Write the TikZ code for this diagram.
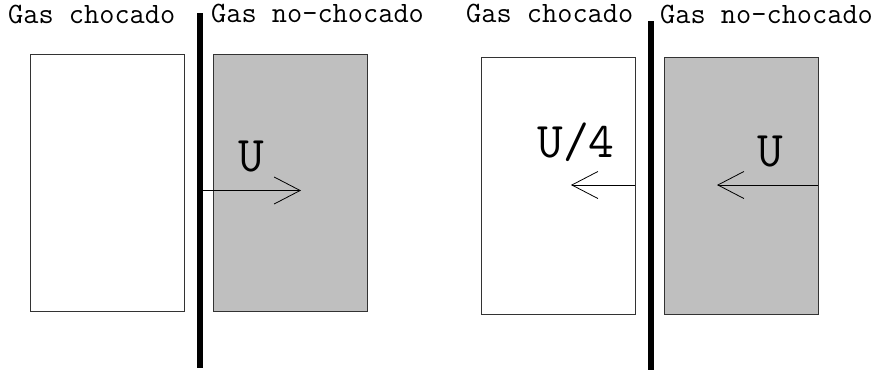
\documentclass[tikz,border=0pt]{standalone}
\usepackage{fontspec}
\usetikzlibrary{arrows.meta}
\begin{document}
\begin{tikzpicture}[x=1pt,y=-1pt,
  gasbox/.style={draw=black!80,line width=1pt,minimum width=154pt,minimum height=257pt,inner sep=0pt,anchor=north west},
  shocked/.style={gasbox,fill=white},
  unshocked/.style={gasbox,fill=black!25},
  front/.style={line width=6pt,draw=black},
  flow/.style={line width=0.8pt,-{Straight Barb[length=26pt,width=27pt,line width=0.8pt]}},
  title/.style={font=\ttfamily\fontsize{29.5}{29.5}\selectfont,inner sep=0pt,anchor=base west},
  vel/.style={font=\ttfamily\fontsize{50}{50}\selectfont,inner sep=0pt,anchor=base}]
\useasboundingbox (0,0) rectangle (874,372);
% left panel
\node[shocked] (a1) at (30,54) {};
\node[unshocked] (a2) at (213,54) {};
\coordinate (ft1) at (200,13);
\coordinate (fb1) at (200,368);
\draw[front] (ft1) -- (fb1);
\coordinate (as1) at (203,190.5);
\coordinate (ae1) at (301,190.5);
\draw[flow] (as1) -- (ae1);
\node[title] (t1) at (8,23) {Gas chocado};
\node[title] (t2) at (211,22) {Gas no-chocado};
\node[vel] (u1) at (251.5,171) {U};
% right panel
\node[shocked] (b1) at (481,57) {};
\node[unshocked] (b2) at (664,57) {};
\coordinate (ft2) at (650.5,21);
\coordinate (fb2) at (650.5,370);
\draw[front] (ft2) -- (fb2);
\coordinate (bs1) at (635,185);
\coordinate (be1) at (571,185);
\draw[flow] (bs1) -- (be1);
\coordinate (bs2) at (818,185);
\coordinate (be2) at (717,185);
\draw[flow] (bs2) -- (be2);
\node[title] (t3) at (466,22) {Gas chocado};
\node[title] (t4) at (660,23) {Gas no-chocado};
\node[vel] (u2) at (576,157) {U/4};
\node[vel] (u3) at (770,166) {U};
\end{tikzpicture}
\end{document}
